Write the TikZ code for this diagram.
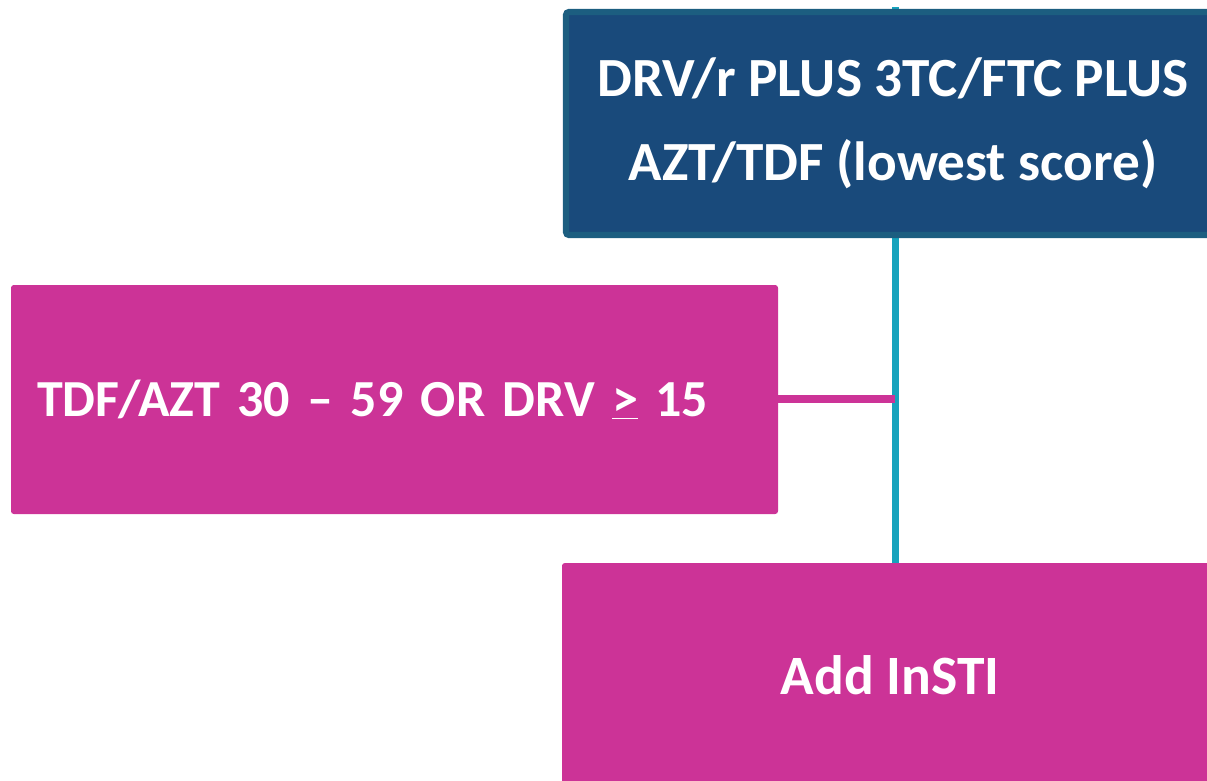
\documentclass[tikz,border=0pt]{standalone}
\usepackage{fontspec}
\setmainfont{Carlito}
\usetikzlibrary{positioning}
\usetikzlibrary{backgrounds}
\definecolor{navy}{RGB}{25,74,123}
\definecolor{navyedge}{RGB}{28,94,128}
\definecolor{teal}{RGB}{22,163,189}
\definecolor{magenta}{RGB}{204,51,151}
\tikzset{
    boxn/.style = {rectangle, draw=navyedge, line width=4.3pt, fill=navy, rounded corners=2pt,
                   text=white, align=center, font=\bfseries\fontsize{39.3}{59.75}\selectfont},
    boxm/.style = {rectangle, draw=none, fill=magenta, rounded corners=2pt,
                   text=white, font=\bfseries\fontsize{37}{42}\selectfont},
    edget/.style = {line width=5pt, teal},
    edgem/.style = {line width=5pt, magenta}
}
\begin{document}
\begin{tikzpicture}
\clip (0,0) rectangle (30.175,-19.5);
\useasboundingbox (0,0) rectangle (30.175,-19.5);
%
\node[boxn,minimum width=16.35cm,minimum height=5.575cm] at (22.325,-3.0875) (regimen)
  {DRV/r PLUS 3TC/FTC PLUS\\AZT/TDF (lowest score)};
\node[boxm,minimum width=19.175cm,minimum height=5.725cm,text width=17.875cm,
  inner xsep=0.65cm,align=left] at (9.8625,-9.9875) (score)
  {TDF/AZT 30 – 59 OR DRV \underline{>} 15};
\node[boxm,minimum width=16.4cm,minimum height=5.6cm,font=\bfseries\fontsize{39.5}{45}\selectfont]
  at (22.25,-16.875) (insti) {Add InSTI};
\coordinate (tip) at (22.375,-0.175);
%
\begin{scope}[on background layer]
\draw[edget] (tip) -- (tip |- insti.north);
\end{scope}
\draw[edgem] (score.east |- 0,-9.975) -- (tip |- 0,-9.975);

\end{tikzpicture}
\end{document}
